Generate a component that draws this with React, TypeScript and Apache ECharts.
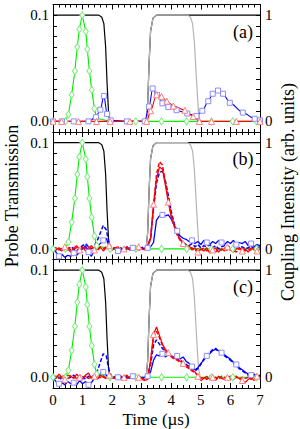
import React, { useEffect, useRef } from "react";
import * as echarts from "echarts";

// ---------- coupling intensity (right axis, arb. units) ----------
const BLACK_T = [0, 1.55, 1.65, 1.72, 1.78, 1.83, 1.88, 1.93, 3.15, 3.2, 3.25, 3.3, 3.38, 3.5, 7];
const BLACK_V = [1, 1, 0.98, 0.92, 0.7, 0.35, 0.08, 0, 0, 0.15, 0.55, 0.85, 0.97, 1, 1];
const GREY_T = [3.15, 3.2, 3.25, 3.3, 3.38, 3.5, 4.55, 4.65, 4.72, 4.78, 4.85, 4.92, 4.98];
const GREY_V = [0, 0.15, 0.55, 0.85, 0.97, 1, 1, 0.98, 0.92, 0.75, 0.4, 0.08, 0];

// ---------- input probe pulse (green) ----------
const GREEN_T = [0, 0.42, 0.52, 0.63, 0.74, 0.82, 0.89, 0.99, 1.11, 1.16, 1.23, 1.31, 1.4, 1.48, 1.93, 2.8, 3.67, 4.52, 5.36, 6.08, 6.88];
const GREEN_V = [0, 0, 0.0065, 0.025, 0.0475, 0.07, 0.0867, 0.1, 0.0845, 0.068, 0.0475, 0.0296, 0.012, 0.003, 0, 0, 0, 0, 0, 0, 0];

// ---------- panel (a): theory ----------
const BLUE_A_T = [0, 0.3, 0.7, 1.2, 1.45, 1.6, 1.72, 1.83, 1.95, 2.5, 3.1, 3.25, 3.37, 3.52, 3.7, 3.9, 4.18, 4.54, 4.85, 5.05, 5.25, 5.4, 5.58, 5.75, 5.98, 6.42, 6.82, 7.0];
const BLUE_A_V = [0, 0, 0, 0, 0.004, 0.011, 0.024, 0.007, 0.001, 0, 0, 0.014, 0.031, 0.025, 0.017, 0.0135, 0.0105, 0.0074, 0.005, 0.01, 0.019, 0.026, 0.029, 0.026, 0.0175, 0.0083, 0.0025, 0.001];
const RED_A_T = [0, 0.29, 0.86, 1.47, 1.93, 2.6, 3.17, 3.3, 3.5, 3.67, 3.85, 4.07, 4.46, 4.74, 4.95, 5.36, 6.2, 7.0];
const RED_A_V = [0, 0, 0, 0, 0, 0, 0, 0.01, 0.025, 0.0235, 0.019, 0.0145, 0.0105, 0.0045, 0, 0, 0, 0];

// ---------- panels (b), (c): measured traces, sampled every 0.1 µs, values in units of 1e-3 ----------
const T_EXP = [0, 0.1, 0.2, 0.3, 0.4, 0.5, 0.6, 0.7, 0.8, 0.9, 1.0, 1.1, 1.2, 1.3, 1.4, 1.5, 1.6, 1.7, 1.8, 1.9,
  2.0, 2.1, 2.2, 2.3, 2.4, 2.5, 2.6, 2.7, 2.8, 2.9, 3.0, 3.1, 3.2, 3.3, 3.4, 3.5, 3.6, 3.7, 3.8, 3.9,
  4.0, 4.1, 4.2, 4.3, 4.4, 4.5, 4.6, 4.7, 4.8, 4.9, 5.0, 5.1, 5.2, 5.3, 5.4, 5.5, 5.6, 5.7, 5.8, 5.9,
  6.0, 6.1, 6.2, 6.3, 6.4, 6.5, 6.6, 6.7, 6.8, 6.9, 7.0];

const BLUE_SOLID_B = [0, -3, -7, -5, -8, -6, -7, -4, -6, -3, 0, 3, -3, -7, -1, 3, 5, 8, 10, 2,
  -1, 1, -2, 1, -1, 2, -1, 1, 2, -1, 1, 0, 1, 2, 6, 27, 31, 32, 31, 32,
  28, 22, 17, 12, 10, 9, 7, 8, 5, 7, 4, 8, 6, 4, 7, 5, 8, 6, 4, 7,
  5, 8, 4, 6, 5, 7, 3, 5, 2, 4, 3];
const BLUE_DASH_B = [1, -1, 0, -2, 1, -1, 2, 0, -2, 1, 3, 5, 2, 0, 3, 8, 15, 22, 18, 5,
  0, 1, -1, 0, 1, -1, 0, 1, -1, 0, 1, 2, 3, 10, 38, 62, 72, 73, 64, 50,
  35, 24, 15, 9, 6, 4, 3, 5, 2, 4, 1, 3, 2, 4, 1, 3, 0, 2, 3, 1,
  2, 0, 3, 1, 2, 0, 1, 3, 0, 1, 2];
const RED_SOLID_B = [2, -1, 1, -2, 2, 0, -3, 1, 3, -1, 2, -2, 1, 3, -1, 0, 2, -2, 1, 3,
  -1, 1, 2, -2, 0, 2, -1, 1, -2, 2, 0, -1, 3, 10, 42, 66, 77, 75, 60, 44,
  30, 22, 14, 9, 5, 2, 3, -1, 1, -3, 0, -2, 1, -4, -1, 1, -3, 0, -2, 2,
  -1, -3, 0, 1, -2, 0, -3, 1, -1, -2, 0];
const RED_DASH_B = [0, 1, -1, 1, 0, 2, -1, 0, 1, -2, 0, 1, -1, 2, 0, -1, 1, 0, 2, -1,
  0, 1, -1, 1, 0, -1, 1, 0, 1, -1, 0, 1, 2, 9, 40, 70, 82, 79, 63, 46,
  32, 21, 13, 8, 4, 2, 0, 1, -2, 0, -1, 1, -2, 0, -1, -3, 0, -1, 1, -2,
  0, -1, -3, 0, 1, -2, 0, -1, 1, -2, 0];

const BLUE_SOLID_C = [0, -4, -6, -5, -7, -4, -6, -5, -7, -3, -6, -4, -7, -5, -1, 1, 3, 5, 2, 0,
  -1, 1, 0, -1, 1, 0, -1, 1, 0, 1, -1, 0, 1, 5, 16, 21, 20, 22, 19, 21,
  20, 18, 20, 17, 19, 15, 13, 10, 7, 9, 13, 16, 20, 22, 25, 26, 25, 23, 21, 19,
  17, 14, 12, 9, 7, 5, 3, 2, 3, 1, 2];
const BLUE_DASH_C = [1, -1, 0, -2, 1, -1, 0, 2, -1, 0, 1, -2, 1, 0, 2, 6, 14, 22, 20, 6,
  0, -1, 1, 0, -1, 1, 0, -1, 1, 0, -1, 0, 2, 12, 30, 35, 31, 27, 24, 22,
  20, 18, 17, 16, 14, 12, 10, 8, 6, 8, 12, 17, 21, 23, 26, 27, 24, 22, 20, 18,
  16, 13, 11, 8, 6, 4, 2, 3, 1, 2, 0];
const RED_SOLID_C = [2, -1, 3, 0, -2, 2, 1, -1, 3, 0, -2, 2, 4, -1, 1, -2, 2, 0, -1, 2,
  0, -1, 1, -2, 0, 2, -1, 1, -2, 0, -2, -3, -2, 16, 40, 47, 39, 31, 26, 23,
  20, 18, 17, 15, 13, 11, 9, 7, 5, 1, -3, -1, 1, -2, 0, -3, 1, -1, -2, 0,
  1, -2, 0, -1, -3, -5, -2, 0, -3, 1, -1];
const RED_DASH_C = [0, 1, -1, 2, 0, -1, 1, 0, -1, 2, 0, 1, -1, 0, 2, -1, 0, 1, -1, 0,
  1, 0, -1, 1, 0, -1, 0, 1, -1, 0, -1, -2, 0, 14, 38, 43, 37, 30, 25, 22,
  19, 17, 16, 14, 12, 10, 8, 6, 4, 2, -1, 0, -2, 1, -1, 0, -2, 1, 0, -1,
  -2, 0, 1, -2, 0, -1, 0, -2, 1, 0, -1];

// ---------- text ----------
const X_TICKS = [0, 1, 2, 3, 4, 5, 6, 7];
const PANEL_LABELS = ["(a)", "(b)", "(c)"];
const Y_LEFT_TITLE = "Probe Transmission";
const Y_RIGHT_TITLE = "Coupling Intensity (arb. units)";
const X_TITLE = "Time (µs)";

const FONT = "Liberation Serif";
const BLUE = "#0000ff";
const RED = "#ff0000";
const GREEN = "#00ee00";

const zip = (t: number[], v: number[]) => t.map((x, i) => [x, v[i]]);

export default function App() {
  const ref = useRef<HTMLDivElement>(null);

  useEffect(() => {
    if (!ref.current) return;
    const chart = echarts.init(ref.current, undefined, { renderer: "svg" });

    const grids = [
      { left: 53, width: 207, top: 4.5, height: 127.5 },
      { left: 53, width: 207, top: 132, height: 127.5 },
      { left: 53, width: 207, top: 259.5, height: 128.5 },
    ];

    const near = (a: number, b: number) => Math.abs(a - b) < 1e-6;
    const xAxes: any[] = [];
    const yAxes: any[] = [];
    grids.forEach((_, k) => {
      for (const pos of ["bottom", "top"]) {
        xAxes.push({
          type: "value",
          gridIndex: k,
          position: pos,
          min: X_TICKS[0],
          max: X_TICKS[X_TICKS.length - 1],
          interval: 1,
          axisLine: { show: true, onZero: false, lineStyle: { color: "#000", width: 1 } },
          axisTick: { show: true, inside: true, length: 5, lineStyle: { color: "#000" } },
          minorTick: { show: true, splitNumber: 5, length: 3, lineStyle: { color: "#000" } },
          axisLabel: {
            show: k === 2 && pos === "bottom",
            fontFamily: FONT,
            fontSize: 15,
            color: "#000",
            margin: 4,
          },
          splitLine: { show: false },
          minorSplitLine: { show: false },
        });
      }
      yAxes.push({
        type: "value",
        gridIndex: k,
        position: "left",
        min: -0.01,
        max: 0.11,
        interval: 0.01,
        axisLine: { show: true, onZero: false, lineStyle: { color: "#000", width: 1 } },
        axisTick: { show: true, inside: true, length: 4, lineStyle: { color: "#000" } },
        axisLabel: {
          fontFamily: FONT,
          fontSize: 15,
          color: "#000",
          margin: 4,
          formatter: (v: number) => (near(v, 0.1) ? "0.1" : near(v, 0) ? "0.0" : ""),
        },
        splitLine: { show: false },
      });
      yAxes.push({
        type: "value",
        gridIndex: k,
        position: "right",
        min: -0.1,
        max: 1.1,
        interval: 0.1,
        axisLine: { show: true, onZero: false, lineStyle: { color: "#000", width: 1 } },
        axisTick: { show: true, inside: true, length: 4, lineStyle: { color: "#000" } },
        axisLabel: {
          fontFamily: FONT,
          fontSize: 15,
          color: "#000",
          margin: 5,
          formatter: (v: number) => (near(v, 1) ? "1" : near(v, 0) ? "0" : ""),
        },
        splitLine: { show: false },
      });
    });

    const series: any[] = [];
    const base = (k: number, right: boolean) => ({
      type: "line",
      xAxisIndex: 2 * k,
      yAxisIndex: 2 * k + (right ? 1 : 0),
      silent: true,
    });

    const expData = (vals: number[], sym: string, every: number, off: number) =>
      vals.map((v, i) => ({
        value: [T_EXP[i], v / 1000],
        symbol: i % every === off ? sym : "none",
      }));

    const blueMark = { color: "#ffffff", borderColor: "#8c8cff", borderWidth: 1 };
    const redMark = { color: "#ffffff", borderColor: "#ff8080", borderWidth: 1 };

    for (let k = 0; k < 3; k++) {
      series.push({
        ...base(k, true),
        data: zip(BLACK_T, BLACK_V),
        symbol: "none",
        lineStyle: { color: "#000", width: 1.2 },
      });
      series.push({
        ...base(k, true),
        data: zip(GREY_T, GREY_V),
        symbol: "none",
        lineStyle: { color: "#b4b4b4", width: 1.2 },
      });
      series.push({
        ...base(k, false),
        data: zip(GREEN_T, GREEN_V),
        symbol: "diamond",
        symbolSize: [5, 7],
        itemStyle: { color: "#ffffff", borderColor: "#77ee77", borderWidth: 1 },
        lineStyle: { color: GREEN, width: 1.1 },
      });
      if (k === 0) {
        series.push({
          ...base(k, false),
          data: zip(BLUE_A_T, BLUE_A_V),
          smooth: 0.3,
          smoothMonotone: "x",
          symbol: "rect",
          symbolSize: 5,
          itemStyle: blueMark,
          lineStyle: { color: BLUE, width: 1.1 },
        });
        series.push({
          ...base(k, false),
          data: zip(RED_A_T, RED_A_V),
          smooth: 0.3,
          smoothMonotone: "x",
          symbol: "triangle",
          symbolSize: 6,
          itemStyle: redMark,
          lineStyle: { color: RED, width: 1.1 },
        });
      } else {
        const bs = k === 1 ? BLUE_SOLID_B : BLUE_SOLID_C;
        const bd = k === 1 ? BLUE_DASH_B : BLUE_DASH_C;
        const rs = k === 1 ? RED_SOLID_B : RED_SOLID_C;
        const rd = k === 1 ? RED_DASH_B : RED_DASH_C;
        series.push({
          ...base(k, false),
          data: expData(bs, "rect", 5, 2),
          symbolSize: 5,
          itemStyle: blueMark,
          lineStyle: { color: BLUE, width: 1.3 },
        });
        series.push({
          ...base(k, false),
          data: expData(bd, "none", 1, 5),
          lineStyle: { color: BLUE, width: 1.5, type: [4, 2] },
        });
        series.push({
          ...base(k, false),
          data: expData(rd, "none", 1, 5),
          lineStyle: { color: RED, width: 1.5, type: [4, 2] },
        });
        series.push({
          ...base(k, false),
          data: expData(rs, "triangle", 5, 4),
          symbolSize: 6,
          itemStyle: redMark,
          lineStyle: { color: RED, width: 1.3 },
        });
      }
    }

    const txt = (text: string, x: number, y: number, rot = 0, size = 18) => ({
      type: "text",
      x,
      y,
      rotation: rot,
      silent: true,
      style: {
        text,
        font: `${size}px "${FONT}"`,
        fill: "#000",
        textAlign: "center",
        textVerticalAlign: "middle",
        align: "center",
        verticalAlign: "middle",
      },
    });

    chart.setOption({
      animation: false,
      backgroundColor: "#ffffff",
      grid: grids,
      xAxis: xAxes,
      yAxis: yAxes,
      series,
      graphic: [
        txt(PANEL_LABELS[0], 243, 32),
        txt(PANEL_LABELS[1], 243, 159),
        txt(PANEL_LABELS[2], 243, 287),
        txt(Y_LEFT_TITLE, 12, 196, Math.PI / 2),
        txt(Y_RIGHT_TITLE, 288, 192, Math.PI / 2),
        txt(X_TITLE, 156, 419, 0, 17),
      ],
    });

    return () => chart.dispose();
  }, []);

  return (
    <div
      ref={ref}
      style={{ position: "fixed", left: 0, top: 0, width: 300, height: 429, background: "#fff" }}
    />
  );
}
